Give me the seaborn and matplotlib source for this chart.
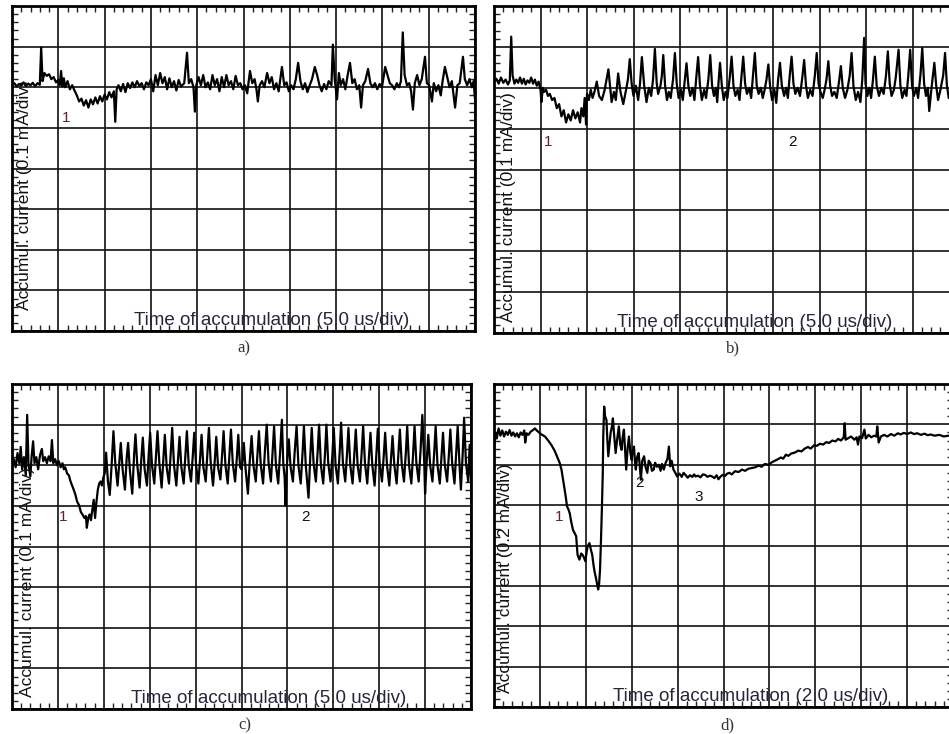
import numpy as np
import matplotlib.pyplot as plt
from matplotlib.ticker import MultipleLocator
import seaborn as sns

sns.set_style('white')
plt.rcParams['font.family'] = ['Liberation Sans', 'DejaVu Sans']

# traces read off the scope screens, in divisions
# (time: 0..10 div, current: 0 = reference grid line, 2 div above it, 6 below)
a_trace = [
    (0.00, 0.05), (0.05, 0.10), (0.10, 0.02), (0.15, 0.08), (0.20, 0.04), (0.25, 0.12),
    (0.30, 0.03), (0.35, 0.09), (0.40, 0.05), (0.45, 0.11), (0.50, 0.02), (0.55, 0.10),
    (0.60, 0.06), (0.63, 0.98), (0.66, 0.15), (0.70, 0.35), (0.75, 0.28), (0.80, 0.32),
    (0.85, 0.20), (0.90, 0.25), (0.95, 0.12), (1.00, 0.18), (1.03, 0.05), (1.06, 0.40),
    (1.09, 0.02), (1.12, 0.22), (1.15, 0.00), (1.20, 0.15), (1.25, -0.05), (1.30, 0.05),
    (1.35, -0.08), (1.40, -0.20), (1.45, -0.35), (1.50, -0.28), (1.55, -0.45), (1.60, -0.32),
    (1.65, -0.50), (1.70, -0.30), (1.75, -0.42), (1.80, -0.25), (1.85, -0.40), (1.90, -0.22),
    (1.95, -0.35), (2.00, -0.18), (2.05, -0.30), (2.10, -0.12), (2.15, -0.25), (2.20, -0.10),
    (2.23, -0.85), (2.26, -0.05), (2.30, 0.05), (2.35, -0.10), (2.40, 0.08), (2.45, -0.12),
    (2.50, 0.10), (2.55, -0.02), (2.60, 0.12), (2.65, 0.00), (2.70, 0.15), (2.75, 0.03),
    (2.80, 0.10), (2.85, -0.05), (2.90, 0.12), (2.95, 0.05), (3.00, 0.20), (3.05, -0.10),
    (3.10, 0.30), (3.15, 0.05), (3.20, 0.35), (3.25, 0.10), (3.30, 0.25), (3.35, -0.05),
    (3.40, 0.22), (3.45, 0.00), (3.50, 0.15), (3.55, -0.08), (3.60, 0.18), (3.65, 0.02),
    (3.72, 0.10), (3.78, 0.85), (3.82, 0.10), (3.87, 0.20), (3.92, 0.00), (3.95, -0.60),
    (3.98, 0.05), (4.03, 0.25), (4.08, 0.05), (4.13, 0.30), (4.18, 0.00), (4.23, 0.12),
    (4.28, -0.05), (4.33, 0.30), (4.38, 0.05), (4.43, 0.20), (4.48, -0.10), (4.53, 0.25),
    (4.58, 0.00), (4.63, 0.30), (4.68, 0.05), (4.73, 0.15), (4.78, -0.05), (4.83, 0.28),
    (4.88, 0.05), (4.93, 0.10), (4.98, -0.05), (5.03, 0.05), (5.08, -0.15), (5.14, 0.40),
    (5.19, 0.10), (5.24, 0.20), (5.28, -0.05), (5.31, -0.35), (5.35, 0.05), (5.40, 0.15),
    (5.45, 0.00), (5.51, 0.35), (5.56, 0.10), (5.61, 0.25), (5.66, -0.05), (5.71, 0.10),
    (5.76, -0.10), (5.83, 0.50), (5.88, 0.05), (5.93, 0.12), (5.98, -0.10), (6.03, 0.05),
    (6.08, -0.05), (6.13, 0.20), (6.18, 0.60), (6.23, 0.15), (6.28, -0.05), (6.33, 0.10),
    (6.38, -0.12), (6.43, 0.05), (6.48, 0.20), (6.54, 0.50), (6.59, 0.30), (6.64, 0.05),
    (6.69, -0.10), (6.74, 0.08), (6.79, -0.05), (6.84, 0.15), (6.90, 0.05), (6.93, 1.05),
    (6.97, 0.20), (7.02, -0.30), (7.06, 0.35), (7.10, 0.05), (7.15, 0.20), (7.20, -0.05),
    (7.25, 0.30), (7.30, 0.60), (7.35, 0.10), (7.40, 0.20), (7.45, -0.05), (7.50, 0.05),
    (7.54, -0.50), (7.58, 0.05), (7.63, 0.15), (7.69, 0.45), (7.74, 0.10), (7.79, 0.00),
    (7.84, 0.10), (7.89, -0.05), (7.94, 0.08), (7.99, 0.00), (8.06, 0.50), (8.11, 0.30),
    (8.16, 0.10), (8.21, 0.05), (8.26, -0.05), (8.31, 0.10), (8.36, 0.00), (8.40, 0.15),
    (8.44, 1.35), (8.48, 0.30), (8.53, 0.05), (8.58, 0.10), (8.62, -0.10), (8.66, -0.55),
    (8.70, 0.10), (8.75, 0.30), (8.80, 0.05), (8.85, 0.20), (8.92, 0.75), (8.96, 0.10),
    (9.01, 0.05), (9.07, -0.35), (9.11, 0.10), (9.16, -0.10), (9.21, 0.05), (9.26, -0.20),
    (9.30, 0.15), (9.35, 0.50), (9.40, 0.25), (9.45, 0.00), (9.50, 0.15), (9.57, -0.50),
    (9.62, 0.05), (9.67, 0.10), (9.74, 0.75), (9.78, 0.20), (9.83, 0.05), (9.88, 0.20),
    (9.93, 0.00), (9.97, 0.15), (10.00, -0.30),
]

b_trace = [
    (0.00, 0.15), (0.05, 0.22), (0.10, 0.10), (0.15, 0.25), (0.20, 0.12), (0.25, 0.20),
    (0.30, 0.08), (0.34, 0.18), (0.37, 1.25), (0.40, 0.30), (0.44, 0.10), (0.48, 0.20),
    (0.52, 0.12), (0.56, 0.25), (0.60, 0.10), (0.64, 0.22), (0.68, 0.08), (0.72, 0.18),
    (0.76, 0.12), (0.80, 0.25), (0.84, 0.10), (0.88, 0.20), (0.92, 0.05), (0.96, 0.15),
    (1.00, -0.05), (1.02, -0.35), (1.05, 0.00), (1.08, -0.10), (1.12, -0.05), (1.16, -0.20),
    (1.20, -0.15), (1.25, -0.30), (1.30, -0.25), (1.35, -0.50), (1.40, -0.40), (1.45, -0.70),
    (1.50, -0.55), (1.55, -0.85), (1.60, -0.65), (1.65, -0.80), (1.70, -0.55), (1.75, -0.75),
    (1.80, -0.60), (1.85, -0.85), (1.88, -0.50), (1.92, -0.70), (1.95, -0.25), (1.98, -0.90),
    (2.00, -0.15), (2.04, -0.30), (2.08, -0.05), (2.12, -0.25), (2.16, -0.10), (2.21, 0.15),
    (2.26, -0.20), (2.32, -0.30), (2.38, -0.05), (2.46, 0.45), (2.50, 0.00), (2.53, -0.35),
    (2.58, -0.10), (2.62, -0.30), (2.67, 0.35), (2.72, -0.10), (2.78, -0.40), (2.84, -0.05),
    (2.88, 0.20), (2.92, 0.70), (2.96, 0.10), (3.00, -0.20), (3.05, 0.05), (3.10, -0.30),
    (3.14, 0.10), (3.18, 0.75), (3.23, 0.05), (3.28, -0.35), (3.33, 0.00), (3.38, -0.20),
    (3.42, 0.20), (3.46, 0.95), (3.50, 0.10), (3.53, -0.15), (3.58, 0.05), (3.61, 0.30),
    (3.64, 0.80), (3.68, 0.05), (3.72, -0.30), (3.76, -0.10), (3.80, -0.25), (3.85, 0.20),
    (3.89, 0.85), (3.93, 0.10), (3.97, -0.25), (4.02, -0.05), (4.06, -0.30), (4.10, 0.15),
    (4.14, 0.60), (4.18, 0.05), (4.22, -0.20), (4.27, 0.00), (4.31, -0.30), (4.35, 0.25),
    (4.39, 0.75), (4.43, 0.05), (4.47, -0.30), (4.52, -0.05), (4.56, -0.25), (4.61, 0.20),
    (4.65, 0.80), (4.69, 0.05), (4.73, -0.20), (4.77, 0.00), (4.80, -0.35), (4.83, 0.15),
    (4.86, 0.61), (4.90, 0.05), (4.94, -0.30), (4.98, -0.10), (5.02, -0.25), (5.07, 0.25),
    (5.11, 0.76), (5.15, 0.05), (5.19, -0.20), (5.24, -0.05), (5.28, -0.30), (5.32, 0.25),
    (5.36, 0.76), (5.40, 0.10), (5.44, -0.15), (5.49, 0.00), (5.53, -0.25), (5.57, 0.30),
    (5.61, 0.85), (5.65, 0.05), (5.69, -0.15), (5.74, 0.00), (5.78, -0.25), (5.82, -0.05),
    (5.86, 0.20), (5.90, 0.57), (5.94, 0.00), (5.98, -0.30), (6.03, -0.05), (6.07, -0.37),
    (6.11, 0.20), (6.15, 0.61), (6.19, 0.05), (6.24, -0.20), (6.28, 0.00), (6.32, -0.25),
    (6.36, 0.30), (6.40, 0.76), (6.44, 0.10), (6.48, -0.15), (6.53, 0.00), (6.58, -0.20),
    (6.63, 0.25), (6.67, 0.68), (6.71, 0.05), (6.75, -0.25), (6.80, -0.05), (6.85, -0.20),
    (6.90, 0.30), (6.94, 0.85), (6.98, 0.10), (7.02, -0.10), (7.07, -0.25), (7.11, -0.05),
    (7.15, 0.20), (7.19, 0.65), (7.23, 0.05), (7.27, -0.20), (7.32, -0.10), (7.37, -0.25),
    (7.42, 0.15), (7.46, 0.53), (7.50, 0.00), (7.55, -0.25), (7.60, -0.05), (7.65, 0.30),
    (7.69, 0.85), (7.73, 0.05), (7.78, -0.30), (7.83, -0.10), (7.88, -0.35), (7.92, 0.20),
    (7.96, 1.22), (7.99, 0.10), (8.03, -0.20), (8.07, 0.00), (8.11, -0.25), (8.15, 0.20),
    (8.19, 0.76), (8.23, 0.05), (8.28, -0.20), (8.33, 0.00), (8.38, -0.15), (8.43, 0.30),
    (8.47, 0.89), (8.51, 0.10), (8.55, -0.20), (8.60, -0.05), (8.64, 0.25), (8.70, 0.93),
    (8.74, 0.05), (8.78, -0.25), (8.83, -0.05), (8.87, -0.20), (8.91, 0.30), (8.95, 0.93),
    (8.99, 0.05), (9.03, -0.20), (9.08, 0.00), (9.12, -0.25), (9.17, 0.30), (9.21, 0.97),
    (9.25, 0.10), (9.29, -0.20), (9.33, 0.00), (9.36, -0.57), (9.40, -0.10), (9.43, 0.20),
    (9.47, 0.61), (9.51, 0.05), (9.55, -0.30), (9.60, -0.05), (9.66, 0.30), (9.70, 0.85),
    (9.74, 0.05), (9.78, -0.25), (9.83, 0.00), (9.87, -0.20), (9.91, 0.30), (9.95, 0.80),
    (10.00, 0.05),
]

c_trace = [
    (0.00, 0.05), (0.04, 0.15), (0.08, -0.05), (0.12, 0.30), (0.16, 0.05), (0.19, 0.45),
    (0.22, -0.10), (0.26, 0.20), (0.30, -0.25), (0.33, 1.24), (0.36, 0.00), (0.40, -0.27),
    (0.43, 0.25), (0.46, 0.59), (0.49, 0.05), (0.53, 0.20), (0.57, -0.10), (0.61, 0.25),
    (0.65, 0.40), (0.68, 0.10), (0.72, 0.20), (0.76, 0.05), (0.80, 0.22), (0.84, 0.10),
    (0.87, 0.62), (0.90, 0.05), (0.94, 0.15), (0.98, 0.00), (1.02, 0.10), (1.06, -0.05),
    (1.10, 0.05), (1.13, -0.10), (1.16, -0.05), (1.20, -0.20), (1.24, -0.25), (1.27, -0.38),
    (1.31, -0.50), (1.35, -0.62), (1.38, -0.72), (1.42, -0.90), (1.46, -0.98), (1.50, -1.15),
    (1.54, -1.22), (1.58, -1.30), (1.61, -1.25), (1.63, -1.54), (1.66, -1.30), (1.69, -1.21),
    (1.72, -1.35), (1.75, -1.10), (1.78, -0.85), (1.81, -1.30), (1.84, -0.90), (1.87, -0.60),
    (1.90, -0.45), (1.93, -0.40), (1.96, -0.50), (1.99, -0.30), (2.02, -0.20), (2.05, 0.31),
    (2.09, -0.40), (2.13, -0.73), (2.17, 0.00), (2.21, 0.84), (2.25, 0.05), (2.30, -0.50),
    (2.34, 0.10), (2.37, 0.55), (2.41, -0.10), (2.46, -0.60), (2.50, 0.20), (2.53, 0.55),
    (2.57, -0.15), (2.62, -0.70), (2.66, 0.25), (2.69, 0.76), (2.73, 0.00), (2.78, -0.55),
    (2.82, 0.20), (2.85, 0.68), (2.89, -0.10), (2.94, -0.50), (2.98, 0.30), (3.01, 0.80),
    (3.05, 0.00), (3.10, -0.45), (3.14, 0.30), (3.17, 0.84), (3.21, 0.05), (3.26, -0.55),
    (3.30, 0.20), (3.33, 0.75), (3.37, -0.05), (3.42, -0.45), (3.46, 0.35), (3.49, 0.92),
    (3.53, 0.00), (3.58, -0.50), (3.62, 0.20), (3.65, 0.70), (3.69, -0.05), (3.74, -0.45),
    (3.78, 0.30), (3.81, 0.84), (3.85, 0.00), (3.90, -0.40), (3.94, 0.25), (3.97, 0.80),
    (4.01, 0.00), (4.06, -0.45), (4.10, 0.20), (4.13, 0.75), (4.17, -0.05), (4.22, -0.40),
    (4.26, 0.35), (4.29, 0.92), (4.33, 0.05), (4.38, -0.50), (4.42, 0.15), (4.45, 0.70),
    (4.49, -0.05), (4.54, -0.35), (4.58, 0.30), (4.61, 0.84), (4.65, 0.00), (4.70, -0.45),
    (4.74, 0.30), (4.77, 0.88), (4.81, 0.05), (4.86, -0.40), (4.90, 0.20), (4.93, 0.75),
    (4.97, -0.05), (5.00, -0.10), (5.02, 0.05), (5.05, 0.55), (5.09, -0.10), (5.14, -0.70),
    (5.18, 0.10), (5.22, 0.72), (5.26, 0.00), (5.31, -0.40), (5.35, 0.30), (5.38, 0.84),
    (5.42, 0.00), (5.47, -0.45), (5.51, 0.35), (5.55, 1.00), (5.59, 0.05), (5.64, -0.40),
    (5.68, 0.40), (5.71, 0.96), (5.75, 0.00), (5.80, -0.45), (5.84, 0.30), (5.88, 1.12),
    (5.91, 0.05), (5.94, -0.30), (5.96, -1.00), (5.99, 0.00), (6.03, 0.64), (6.07, -0.05),
    (6.12, -0.40), (6.16, 0.35), (6.20, 0.96), (6.24, 0.00), (6.29, -0.45), (6.33, 0.30),
    (6.36, 0.96), (6.40, 0.00), (6.43, -0.40), (6.46, -0.80), (6.50, 0.25), (6.53, 0.92),
    (6.57, 0.05), (6.62, -0.40), (6.66, 0.35), (6.69, 1.00), (6.73, 0.00), (6.78, -0.45),
    (6.82, 0.30), (6.85, 1.00), (6.89, 0.05), (6.94, -0.40), (6.98, 0.25), (7.01, 0.92),
    (7.05, 0.00), (7.10, -0.45), (7.14, 0.35), (7.17, 1.05), (7.21, 0.05), (7.26, -0.40),
    (7.30, 0.30), (7.33, 0.92), (7.37, 0.00), (7.42, -0.45), (7.46, 0.30), (7.49, 0.88),
    (7.53, 0.00), (7.58, -0.40), (7.62, 0.35), (7.65, 0.96), (7.69, 0.05), (7.74, -0.45),
    (7.78, 0.25), (7.81, 0.80), (7.85, 0.00), (7.90, -0.50), (7.94, 0.30), (7.97, 0.90),
    (8.01, 0.05), (8.06, -0.40), (8.10, 0.25), (8.13, 0.80), (8.17, 0.00), (8.22, -0.50),
    (8.26, 0.20), (8.29, 0.72), (8.33, 0.00), (8.38, -0.45), (8.42, 0.30), (8.45, 0.88),
    (8.49, 0.05), (8.54, -0.40), (8.58, 0.30), (8.61, 0.96), (8.65, 0.00), (8.70, -0.45),
    (8.74, 0.30), (8.77, 0.96), (8.81, 0.05), (8.86, -0.40), (8.90, 0.35), (8.94, 1.24),
    (8.98, 0.10), (9.00, -0.70), (9.03, 0.00), (9.07, 0.75), (9.11, 0.00), (9.16, -0.40),
    (9.20, 0.35), (9.23, 0.96), (9.27, 0.00), (9.32, -0.45), (9.36, 0.25), (9.39, 0.80),
    (9.43, 0.00), (9.48, -0.40), (9.52, 0.30), (9.55, 0.88), (9.59, 0.05), (9.64, -0.45),
    (9.68, 0.35), (9.71, 0.96), (9.75, 0.00), (9.78, -0.60), (9.82, 0.30), (9.85, 1.17),
    (9.89, 0.05), (9.94, -0.40), (9.97, 0.50), (10.00, -0.30),
]

d_trace = [
    (0.00, 0.42), (0.03, 0.80), (0.06, 0.65), (0.10, 0.90), (0.14, 0.72), (0.18, 0.85),
    (0.22, 0.70), (0.26, 0.82), (0.30, 0.74), (0.34, 0.86), (0.38, 0.72), (0.42, 0.80),
    (0.46, 0.70), (0.50, 0.78), (0.54, 0.68), (0.58, 0.80), (0.62, 0.74), (0.66, 0.85),
    (0.68, 0.55), (0.71, 0.78), (0.75, 0.74), (0.80, 0.82), (0.85, 0.86), (0.89, 0.90),
    (0.94, 0.84), (1.00, 0.78), (1.05, 0.74), (1.11, 0.70), (1.18, 0.60), (1.25, 0.49),
    (1.32, 0.35), (1.39, 0.16), (1.43, 0.05), (1.47, -0.12), (1.51, -0.40), (1.54, -0.62),
    (1.57, -0.85), (1.59, -1.03), (1.62, -1.10), (1.65, -1.20), (1.68, -1.40), (1.72, -1.61),
    (1.76, -1.70), (1.79, -1.77), (1.82, -2.23), (1.86, -2.35), (1.90, -2.20), (1.93, -2.23),
    (1.96, -2.30), (1.99, -2.39), (2.02, -2.15), (2.04, -2.02), (2.08, -1.94), (2.11, -2.10),
    (2.14, -2.23), (2.17, -2.50), (2.19, -2.64), (2.22, -2.80), (2.24, -2.92), (2.27, -3.09),
    (2.29, -2.95), (2.31, -2.60), (2.33, -1.90), (2.35, -1.11), (2.37, -0.20), (2.38, 0.70),
    (2.40, 1.44), (2.42, 1.20), (2.45, 1.11), (2.47, 0.60), (2.49, 0.21), (2.52, 0.55),
    (2.54, 0.78), (2.57, 0.95), (2.59, 1.15), (2.62, 0.70), (2.65, 0.29), (2.68, 0.60),
    (2.72, 0.95), (2.75, 0.50), (2.78, 0.37), (2.80, 0.65), (2.83, 0.87), (2.86, 0.30),
    (2.88, -0.12), (2.91, 0.40), (2.94, 0.70), (2.97, 0.30), (3.00, 0.12), (3.02, 0.35),
    (3.05, 0.45), (3.07, 0.10), (3.09, -0.12), (3.12, 0.20), (3.15, 0.29), (3.17, 0.05),
    (3.20, -0.37), (3.23, 0.10), (3.27, 0.21), (3.30, -0.05), (3.34, -0.20), (3.37, 0.10),
    (3.41, 0.04), (3.44, -0.15), (3.48, -0.12), (3.51, 0.05), (3.55, -0.05), (3.59, 0.00),
    (3.63, -0.15), (3.66, 0.02), (3.70, -0.12), (3.74, 0.05), (3.78, 0.15), (3.81, 0.45),
    (3.84, -0.04), (3.87, 0.10), (3.91, -0.12), (3.95, -0.20), (3.99, -0.29), (4.04, -0.22),
    (4.09, -0.30), (4.13, -0.20), (4.17, -0.25), (4.22, -0.32), (4.27, -0.26), (4.32, -0.30),
    (4.36, -0.24), (4.39, -0.29), (4.44, -0.27), (4.50, -0.31), (4.55, -0.24), (4.60, -0.25),
    (4.65, -0.30), (4.70, -0.27), (4.75, -0.29), (4.80, -0.33), (4.85, -0.26), (4.89, -0.36),
    (4.93, -0.30), (4.98, -0.25), (5.03, -0.28), (5.08, -0.22), (5.13, -0.20), (5.18, -0.24),
    (5.25, -0.16), (5.33, -0.18), (5.40, -0.12), (5.47, -0.15), (5.54, -0.10), (5.62, -0.08),
    (5.70, -0.06), (5.76, -0.02), (5.83, -0.05), (5.90, 0.02), (5.98, 0.00), (6.05, 0.06),
    (6.12, 0.10), (6.19, 0.14), (6.25, 0.18), (6.30, 0.15), (6.36, 0.25), (6.41, 0.22),
    (6.48, 0.28), (6.55, 0.30), (6.63, 0.35), (6.70, 0.33), (6.77, 0.40), (6.84, 0.44),
    (6.90, 0.40), (6.97, 0.48), (7.04, 0.47), (7.10, 0.52), (7.17, 0.50), (7.24, 0.56),
    (7.30, 0.54), (7.37, 0.60), (7.44, 0.58), (7.50, 0.64), (7.56, 0.60), (7.62, 0.68),
    (7.64, 1.03), (7.66, 0.62), (7.72, 0.66), (7.78, 0.70), (7.85, 0.62), (7.90, 0.68),
    (7.93, 0.50), (7.96, 0.70), (8.02, 0.66), (8.07, 0.87), (8.10, 0.65), (8.16, 0.74),
    (8.22, 0.68), (8.28, 0.72), (8.33, 0.70), (8.35, 0.95), (8.38, 0.55), (8.43, 0.70),
    (8.50, 0.74), (8.57, 0.70), (8.65, 0.76), (8.72, 0.72), (8.80, 0.78), (8.86, 0.75),
    (8.93, 0.79), (9.00, 0.76), (9.08, 0.80), (9.15, 0.76), (9.22, 0.78), (9.30, 0.74),
    (9.38, 0.77), (9.45, 0.73), (9.51, 0.75), (9.60, 0.72), (9.70, 0.74), (9.80, 0.70),
    (9.90, 0.72), (10.00, 0.70),
]

captions = ['a)', 'b)', 'c)', 'd)']
ylabels = ['Accumul. current (0.1 mA/div)', 'Accumul. current (0.1 mA/div)',
           'Accumul. current (0.1 mA/div)', 'Accumul. current (0.2 mA/div)']
xlabels = ['Time of accumulation (5.0 us/div)', 'Time of accumulation (5.0 us/div)',
           'Time of accumulation (5.0 us/div)', 'Time of accumulation (2.0 us/div)']
# region markers: (text, time div, current div)
a_marks = [('1', 1.17, -0.76)]
b_marks = [('1', 1.16, -1.32), ('2', 6.41, -1.32)]
c_marks = [('1', 1.11, -1.27), ('2', 6.40, -1.27)]
d_marks = [('1', 1.41, -1.29), ('2', 3.18, -0.45), ('3', 4.46, -0.79)]

W, H = 949, 734
fig = plt.figure(figsize=(W / 100, H / 100), dpi=100)

# axes boxes in pixels: left, top, right, bottom
boxes = [(12, 6, 475, 331), (494, 6, 959, 333), (12, 384, 471, 709), (494, 384, 953, 707)]
caption_xy = [(244, 348), (733, 348), (245, 725), (727, 725)]
ylab_pos = [(0.028, 0.065), (0.032, 0.034), (0.033, 0.037), (0.026, 0.043)]

traces = [a_trace, b_trace, c_trace, d_trace]
marks = [a_marks, b_marks, c_marks, d_marks]
mark_colors = {'1': '#5c1f3e', '2': '#111111', '3': '#111111'}

for k in range(4):
    l, t, r, b = boxes[k]
    ax = fig.add_axes([l / W, 1 - b / H, (r - l) / W, (b - t) / H])
    tr = np.array(traces[k])
    sns.lineplot(x=tr[:, 0], y=tr[:, 1], ax=ax, color='black', linewidth=1.6,
                 estimator=None, sort=False, legend=False)
    ax.set_xlim(0, 10)
    ax.set_ylim(-6, 2)
    ax.set_xticks(np.arange(0, 11, 1))
    ax.set_yticks(np.arange(-6, 3, 1))
    ax.xaxis.set_minor_locator(MultipleLocator(0.2))
    ax.yaxis.set_minor_locator(MultipleLocator(0.2))
    ax.grid(True, which='major', color='#111111', linewidth=1.2)
    ax.set_axisbelow(True)
    ax.tick_params(which='both', direction='in', top=True, right=True, bottom=True, left=True,
                   labelbottom=False, labelleft=False, color='#222222')
    ax.tick_params(which='major', length=0)
    ax.tick_params(which='minor', length=4, width=1)
    for s in ax.spines.values():
        s.set_visible(True)
        s.set_color('black')
        s.set_linewidth(2)
    ax.set_xlabel('')
    ax.set_ylabel('')
    ax.text(ylab_pos[k][0], ylab_pos[k][1], ylabels[k], transform=ax.transAxes,
            rotation=90, ha='center', va='bottom', fontsize=12.5, color='#111111')
    ax.text(0.56, 0.033, xlabels[k], transform=ax.transAxes, ha='center', va='center',
            fontsize=13.5, color='#24263a')
    for txt, mx, my in marks[k]:
        ax.text(mx, my, txt, ha='center', va='center', fontsize=11, color=mark_colors[txt])
    cx, cy = caption_xy[k]
    fig.text(cx / W, 1 - cy / H, captions[k], ha='center', va='center',
             fontsize=12, family='Liberation Serif', color='#333333')

fig.savefig('out.png', dpi=100)
